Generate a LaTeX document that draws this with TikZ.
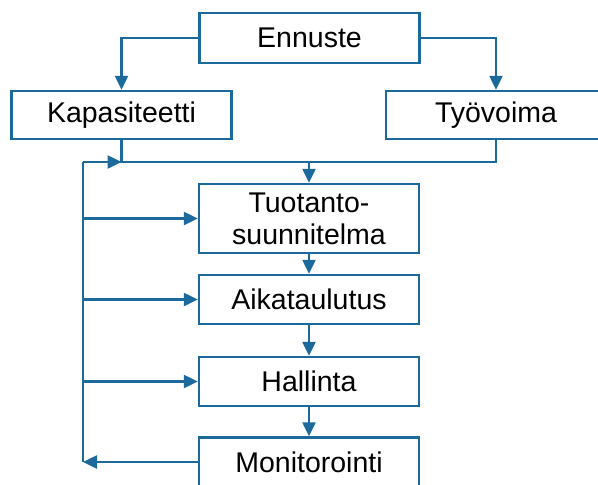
\documentclass[tikz,border=0pt]{standalone}
\usepackage{fontspec}
\setmainfont{Liberation Sans}
\usetikzlibrary{arrows.meta}
\definecolor{kaaviosin}{RGB}{28,106,156}
\begin{document}
\begin{tikzpicture}[x=1pt, y=-1pt,
  laatikko/.style={draw=kaaviosin, line width=2.5pt, inner sep=0pt, minimum width=220pt, align=center, font=\fontsize{28.5}{32}\selectfont},
  viiva/.style={draw=kaaviosin, line width=2.5pt},
  nuoli/.style={viiva, -{Triangle[width=13pt,length=14pt]}}]
\useasboundingbox (0,0) rectangle (598,485);
\clip (0,0) rectangle (598,485);
\node[laatikko, minimum height=50pt] (ennuste) at (309.5,38){Ennuste};
\node[laatikko, minimum height=48pt] (kapasiteetti) at (121.5,115){Kapasiteetti};
\node[laatikko, minimum height=48pt] (tyovoima) at (496,115){Työvoima};
\node[laatikko, minimum height=69pt] (tuotanto) at (309,218.5){Tuotanto-\\suunnitelma};
\node[laatikko, minimum height=49pt] (aikataulutus) at (309,299.5){Aikataulutus};
\node[laatikko, minimum height=49pt] (hallinta) at (309,381.5){Hallinta};
\node[laatikko, minimum height=49pt] (monitorointi) at (309,462){Monitorointi};
\coordinate (yhd) at (121.5,162);
\coordinate (vasen) at (83,162);
\draw[nuoli] (ennuste.west) -| (kapasiteetti.north);
\draw[nuoli] (ennuste.east) -| (tyovoima.north);
\draw[viiva] (kapasiteetti.south) -- (yhd) -| (tyovoima.south);
\draw[nuoli] (yhd -| tuotanto.north) -- (tuotanto.north);
\draw[nuoli] (tuotanto.south) -- (aikataulutus.north);
\draw[nuoli] (aikataulutus.south) -- (hallinta.north);
\draw[nuoli] (hallinta.south) -- (monitorointi.north);
\draw[nuoli] (monitorointi.west) -- (vasen |- monitorointi.west);
\draw[viiva] (vasen |- monitorointi.west) -- (vasen);
\draw[nuoli] (vasen) -- (yhd);
\foreach \kohde in {tuotanto, aikataulutus, hallinta}
  \draw[nuoli] (vasen |- \kohde.west) -- (\kohde.west);

\end{tikzpicture}
\end{document}
